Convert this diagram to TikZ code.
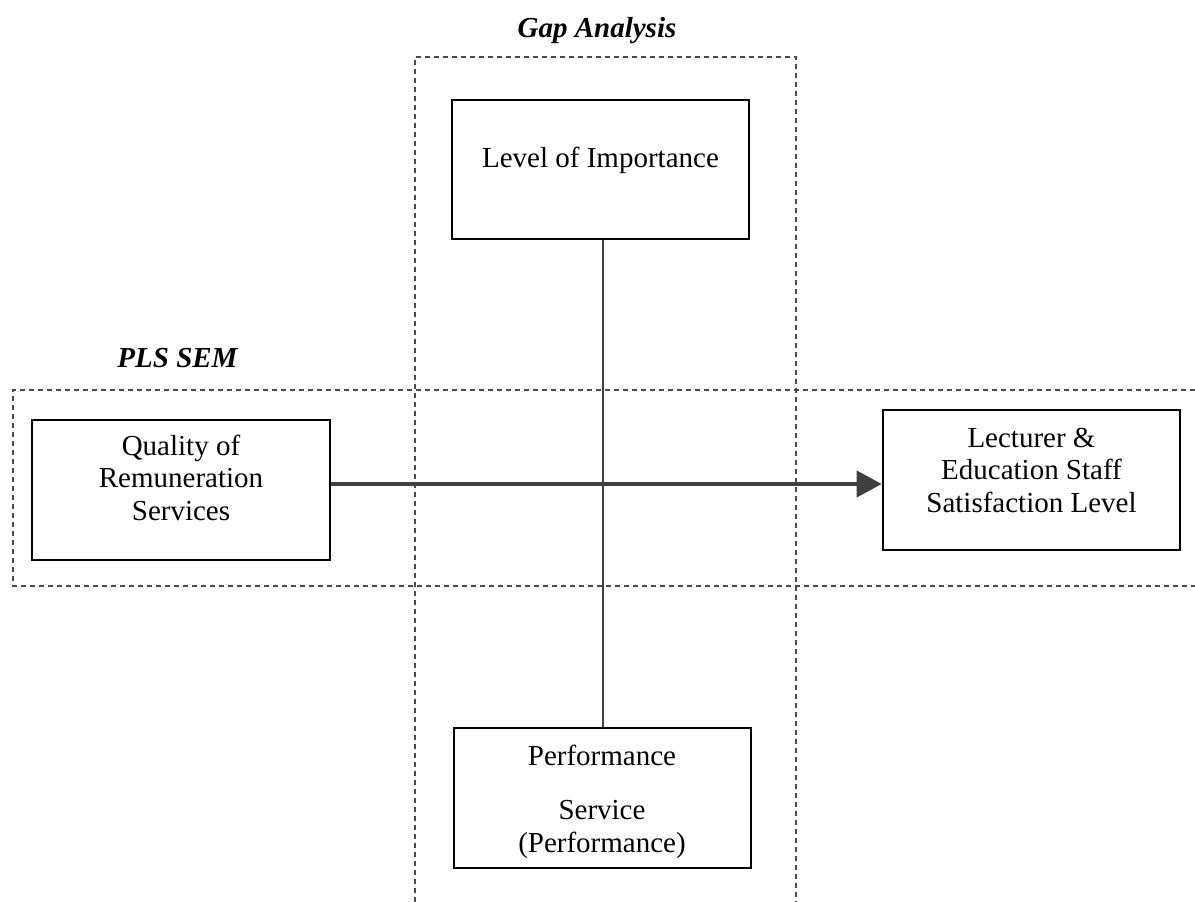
\documentclass[tikz,border=0pt]{standalone}
\usepackage{fontspec}
\setmainfont{Liberation Serif}
\usetikzlibrary{arrows.meta}
\definecolor{linegray}{HTML}{404040}
\definecolor{dashgray}{HTML}{4A4A4A}
\tikzset{
  box/.style={draw=black, line width=2.6pt, rectangle, inner sep=0pt},
  lbl/.style={align=center, inner sep=0pt, font=\fontsize{29pt}{32.5pt}\selectfont, anchor=base},
  grouptitle/.style={inner sep=0pt, font=\fontsize{29pt}{32.5pt}\selectfont\bfseries\itshape, anchor=base},
  groupline/.style={draw=dashgray, line width=1.1pt, dash pattern=on 5pt off 4pt},
  link/.style={draw=linegray, line width=2pt},
  flow/.style={draw=linegray, line width=4pt, -{Triangle[length=25pt,width=26pt]}}
}
\begin{document}
\begin{tikzpicture}[x=1pt,y=-1pt]
\useasboundingbox (0,0) rectangle (1195,902);
\fill[white] (0,0) rectangle (1195,902);
% group frames
\coordinate (gaTL) at (415,57);
\coordinate (gaTR) at (796,57);
\coordinate (gaBL) at (415,902);
\coordinate (gaBR) at (796,902);
\draw[groupline] (gaBL) -- (gaTL) -- (gaTR) -- (gaBR);
\coordinate (plsTR) at (1195,390);
\coordinate (plsTL) at (13,390);
\coordinate (plsBL) at (13,586);
\coordinate (plsBR) at (1195,586);
\draw[groupline] (plsTR) -- (plsTL) -- (plsBL) -- (plsBR);
% titles
\node[grouptitle] (gatitle) at (597,37) {Gap Analysis};
\node[grouptitle] (plstitle) at (177.5,367) {PLS SEM};
% boxes
\node[box, minimum width=297pt, minimum height=139pt] (loi) at (600.5,169.5) {};
\node[lbl] (loitxt) at (600.5,167) {Level of Importance};
\node[box, minimum width=298pt, minimum height=140pt] (qrs) at (181,490) {};
\node[lbl] (qrstxt) at (181,520) {Quality of\\Remuneration\\Services};
\node[box, minimum width=297pt, minimum height=140pt] (les) at (1031.5,480) {};
\node[lbl] (lestxt) at (1031.5,512) {Lecturer \&\\Education Staff\\Satisfaction Level};
\node[box, minimum width=297pt, minimum height=140pt] (perf) at (602.5,798) {};
\node[lbl] (perftxt) at (602,852) {Performance\\[22pt]Service\\(Performance)};
% connectors
\draw[link] (loi.south -| 603,0) -- (perf.north -| 603,0);
\draw[flow] (qrs.east |- 0,484) -- (les.west |- 0,484);
\end{tikzpicture}
\end{document}
